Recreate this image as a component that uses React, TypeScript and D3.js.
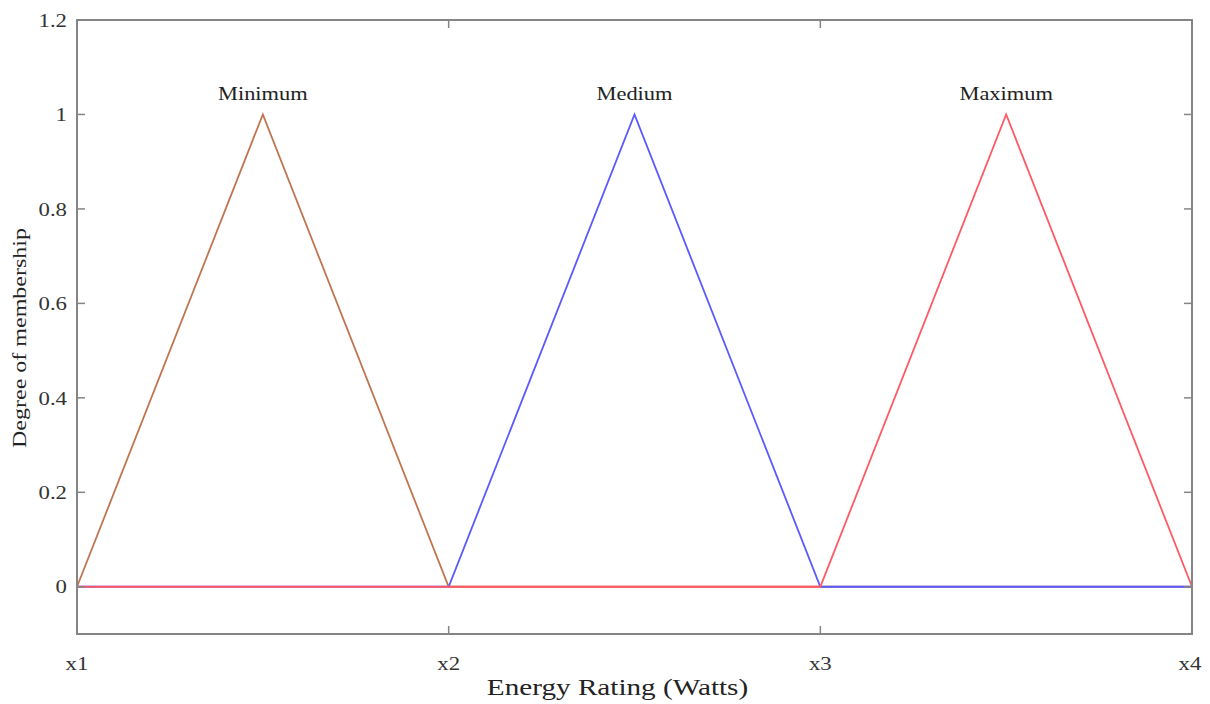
import React from "react";
import * as d3 from "d3";

const xTickLabels = ["x1", "x2", "x3", "x4"];
const xTickValues = [0, 1, 2, 3];
const yTickValues = [0, 0.2, 0.4, 0.6, 0.8, 1, 1.2];

const seriesNames = ["Minimum", "Medium", "Maximum"];
const seriesColors = ["#bf7650", "#5a5aff", "#ff5a64"];
const minimumX = [0, 0.5, 1, 3];
const minimumY = [0, 1, 0, 0];
const mediumX = [0, 1, 1.5, 2, 3];
const mediumY = [0, 0, 1, 0, 0];
const maximumX = [0, 2, 2.5, 3];
const maximumY = [0, 0, 1, 0];
const peakX = [0.5, 1.5, 2.5];

const W = 1210, H = 704;
const left = 77, right = 1192, top = 20, bottom = 634;
const FONT = "'Liberation Serif', 'Times New Roman', serif";

export default function App() {
  const x = d3.scaleLinear().domain([0, 3]).range([left, right]);
  const y = d3.scaleLinear().domain([-0.1, 1.2]).range([bottom, top]);
  const line = d3.line<[number, number]>().x((d) => x(d[0])).y((d) => y(d[1]));
  const series = [
    minimumX.map((v, i) => [v, minimumY[i]] as [number, number]),
    mediumX.map((v, i) => [v, mediumY[i]] as [number, number]),
    maximumX.map((v, i) => [v, maximumY[i]] as [number, number]),
  ];
  const axisColor = "#858585";
  const tl = 8;
  const sx = 1.2;
  return (
    <svg width={W} height={H} style={{ position: "absolute", left: 0, top: 0, background: "#fff" }}>
      {series.map((s, i) => (
        <path key={i} d={line(s) || ""} fill="none" stroke={seriesColors[i]} strokeWidth={1.8} />
      ))}
      {seriesNames.map((n, i) => (
        <text key={n} transform={`translate(${x(peakX[i])},${y(1) - 14}) scale(1.18,1)`} textAnchor="middle" fontFamily={FONT} fontSize={19} fill="#222">
          {n}
        </text>
      ))}
      <rect x={left} y={top} width={right - left} height={bottom - top} fill="none" stroke={axisColor} strokeWidth={2} />
      {yTickValues.map((v) => (
        <g key={v}>
          <line x1={left} x2={left + tl} y1={y(v)} y2={y(v)} stroke={axisColor} strokeWidth={1.5} />
          <line x1={right} x2={right - tl} y1={y(v)} y2={y(v)} stroke={axisColor} strokeWidth={1.5} />
          <text transform={`translate(${left - 10},${y(v)}) scale(${sx},1)`} dy="0.35em" textAnchor="end" fontFamily={FONT} fontSize={19} fill="#333">
            {d3.format("~g")(v)}
          </text>
        </g>
      ))}
      {xTickValues.map((v, i) => (
        <g key={v}>
          <line x1={x(v)} x2={x(v)} y1={bottom} y2={bottom - tl} stroke={axisColor} strokeWidth={1.5} />
          <line x1={x(v)} x2={x(v)} y1={top} y2={top + tl} stroke={axisColor} strokeWidth={1.5} />
          <text transform={`translate(${i === 3 ? x(v) - 2 : x(v)},${bottom + 36}) scale(${sx},1)`} textAnchor="middle" fontFamily={FONT} fontSize={19} fill="#333">
            {xTickLabels[i]}
          </text>
        </g>
      ))}
      <text transform={`translate(${(487 + 748) / 2},695) scale(1.27,1)`} textAnchor="middle" fontFamily={FONT} fontSize={23} fill="#222">
        Energy Rating (Watts)
      </text>
      <text transform={`translate(26,338) rotate(-90)`} textAnchor="middle" fontFamily={FONT} fontSize={19} fill="#222" textLength={220} lengthAdjust="spacingAndGlyphs">
        Degree of membership
      </text>
    </svg>
  );
}
